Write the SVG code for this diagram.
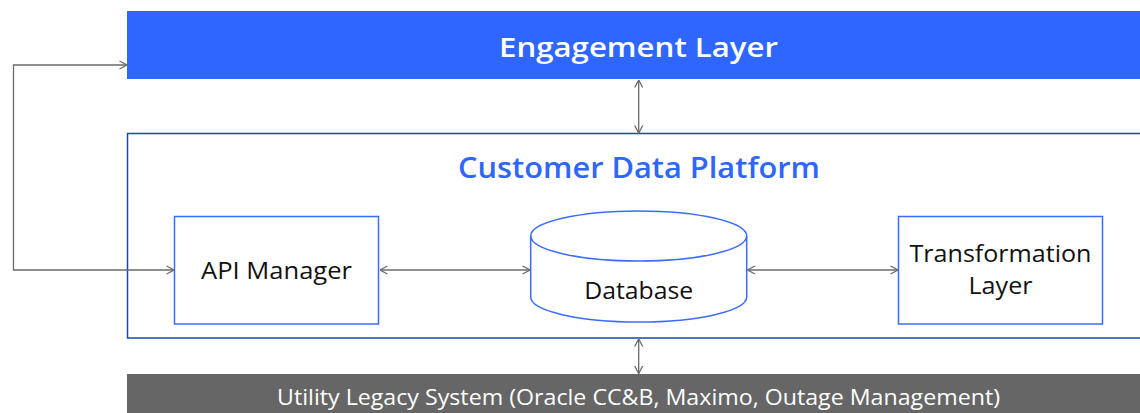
<svg xmlns="http://www.w3.org/2000/svg" width="1140" height="413" viewBox="0 0 1140 413">
<style>
text{font-family:"Open Sans","Liberation Sans",sans-serif;}
.box{fill:#fff;stroke:#3a6dff;stroke-width:1.5;}
.lbl{font-size:24.5px;fill:#111;text-anchor:middle;}
.conn{fill:none;stroke:#6b6b6b;stroke-width:1.3;}
</style>
<defs>
<marker id="arr" viewBox="0 0 10 10" refX="9.5" refY="5" markerWidth="10" markerHeight="10" markerUnits="userSpaceOnUse" orient="auto-start-reverse">
<path d="M2,1 L9.5,5 L2,9" fill="none" stroke="#6b6b6b" stroke-width="1.3"/>
</marker>
</defs>
<rect width="1140" height="413" fill="#fff"/>
<g id="engagement">
<rect x="127" y="11" width="1020" height="68" fill="#2f66ff"/>
<text x="638.5" y="57" font-size="27.5" font-weight="600" fill="#fff" text-anchor="middle" textLength="279" lengthAdjust="spacingAndGlyphs">Engagement Layer</text>
</g>
<g id="cdp">
<rect x="127.5" y="133.5" width="1030" height="204.5" fill="none" stroke="#1c45b0" stroke-width="1.5"/>
<text x="639" y="177.5" font-size="28.5" font-weight="600" fill="#2f66ff" text-anchor="middle" textLength="362" lengthAdjust="spacingAndGlyphs">Customer Data Platform</text>
</g>
<g id="api">
<rect class="box" x="174.5" y="216.5" width="204" height="107.5"/>
<text class="lbl" x="276.5" y="279" textLength="151" lengthAdjust="spacingAndGlyphs">API Manager</text>
</g>
<g id="database">
<path d="M530.7,236 L530.7,297 A108,25 0 0 0 746.7,297 L746.7,236 A108,25 0 0 0 530.7,236 Z" fill="#fff" stroke="#3a6dff" stroke-width="1.5"/>
<path d="M530.7,236 A108,25 0 0 0 746.7,236" fill="none" stroke="#3a6dff" stroke-width="1.5"/>
<text class="lbl" x="638.7" y="299" textLength="109" lengthAdjust="spacingAndGlyphs">Database</text>
</g>
<g id="transformation">
<rect class="box" x="898.5" y="216.5" width="204" height="107.5"/>
<text class="lbl" x="1000.5" y="262" textLength="182" lengthAdjust="spacingAndGlyphs">Transformation</text>
<text class="lbl" x="1000.5" y="294" textLength="64" lengthAdjust="spacingAndGlyphs">Layer</text>
</g>
<g id="legacy">
<rect x="127" y="374" width="1020" height="45" fill="#666666"/>
<text x="638.5" y="405" font-size="21" fill="#fff" text-anchor="middle" textLength="723" lengthAdjust="spacingAndGlyphs">Utility Legacy System (Oracle CC&amp;B, Maximo, Outage Management)</text>
</g>
<g id="connectors">
<path class="conn" d="M638.7,80 L638.7,133" marker-start="url(#arr)" marker-end="url(#arr)"/>
<path class="conn" d="M638.7,339 L638.7,373.5" marker-start="url(#arr)" marker-end="url(#arr)"/>
<path class="conn" d="M380,270 L530,270" marker-start="url(#arr)" marker-end="url(#arr)"/>
<path class="conn" d="M747.5,270 L898,270" marker-start="url(#arr)" marker-end="url(#arr)"/>
<path class="conn" d="M127,65 L13.5,65 L13.5,270 L174,270" marker-start="url(#arr)" marker-end="url(#arr)"/>
</g>
</svg>
